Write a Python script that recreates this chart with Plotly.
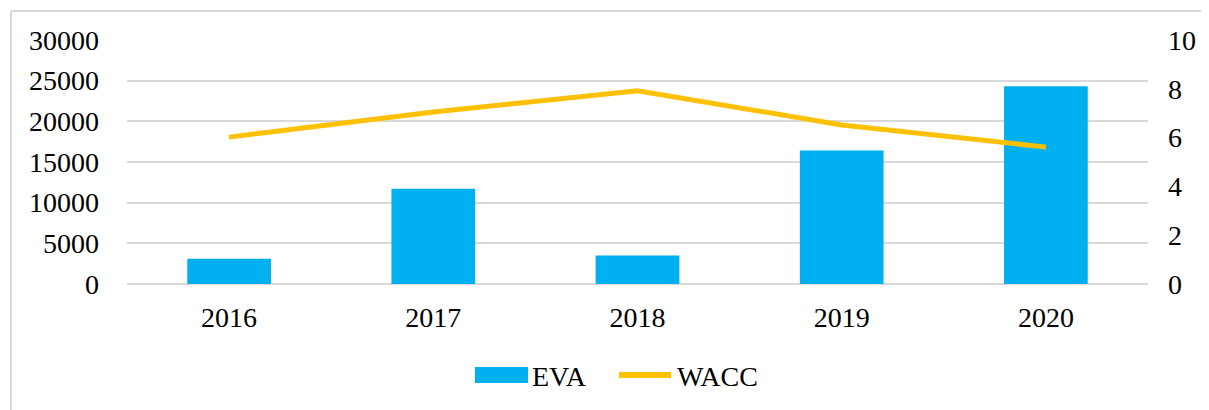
import plotly.graph_objects as go

years = ["2016", "2017", "2018", "2019", "2020"]
eva = [3100, 11700, 3500, 16400, 24300]
wacc = [6.02, 7.05, 7.92, 6.52, 5.61]
series_names = ["EVA", "WACC"]

# the page body has an 8px margin: figure sits at (8, 8) in the 1209x410 window
OFF = 8
W, H = 1209 - OFF, 410 - OFF
L, R, T, B = 127 - OFF, 61, 40 - OFF, 126
pw = W - L - R
ph = H - T - B

font = dict(family="Liberation Serif, Times New Roman, serif", size=28, color="#000000")
grid = "#d9d9d9"
bar_color = "#00B0F0"
line_color = "#FFC000"

fig = go.Figure()
fig.add_trace(go.Bar(x=years, y=eva, name=series_names[0], marker=dict(color=bar_color, line=dict(width=0)),
                     width=0.41, yaxis="y", showlegend=False))
fig.add_trace(go.Scatter(x=years, y=wacc, name=series_names[1], mode="lines",
                         line=dict(color=line_color, width=5), yaxis="y2", showlegend=False))

fig.update_layout(
    width=W, height=H,
    margin=dict(l=L, r=R, t=T, b=B, pad=0, autoexpand=False),
    paper_bgcolor="white", plot_bgcolor="white",
    font=font,
    showlegend=False,
    xaxis=dict(showgrid=False, showline=False, ticks="", tickfont=font, ticklabelstandoff=14),
    yaxis=dict(range=[0, 30000], dtick=5000, tickformat="d", showgrid=True, gridcolor=grid, gridwidth=1.5,
               zeroline=True, zerolinecolor=grid, zerolinewidth=1.5, ticks="", showline=False,
               tickfont=font, ticklabelstandoff=27),
    yaxis2=dict(range=[0, 10], dtick=2, overlaying="y", side="right", showgrid=False,
                zeroline=False, ticks="", showline=False, tickfont=font, ticklabelstandoff=19),
    bargap=0.59,
)

def px_x(v):
    return (v - OFF - L) / pw

def px_y(v):
    return (H - B - (v - OFF)) / ph

# outer chart border (top and left visible)
fig.add_shape(type="line", xref="paper", yref="paper", x0=px_x(11), x1=px_x(1215),
              y0=px_y(11), y1=px_y(11), line=dict(color=grid, width=2))
fig.add_shape(type="line", xref="paper", yref="paper", x0=px_x(11), x1=px_x(11),
              y0=px_y(11), y1=px_y(415), line=dict(color=grid, width=2))

# custom legend
fig.add_shape(type="rect", xref="paper", yref="paper", x0=px_x(475), x1=px_x(528),
              y0=px_y(383), y1=px_y(367), fillcolor=bar_color, line=dict(width=0))
fig.add_annotation(xref="paper", yref="paper", x=px_x(530), y=px_y(376), text=series_names[0],
                   showarrow=False, xanchor="left", yanchor="middle", font=font)
fig.add_shape(type="line", xref="paper", yref="paper", x0=px_x(619), x1=px_x(671),
              y0=px_y(375), y1=px_y(375), line=dict(color=line_color, width=6))
fig.add_annotation(xref="paper", yref="paper", x=px_x(675), y=px_y(376), text=series_names[1],
                   showarrow=False, xanchor="left", yanchor="middle", font=font)

fig.write_html("out.html")
